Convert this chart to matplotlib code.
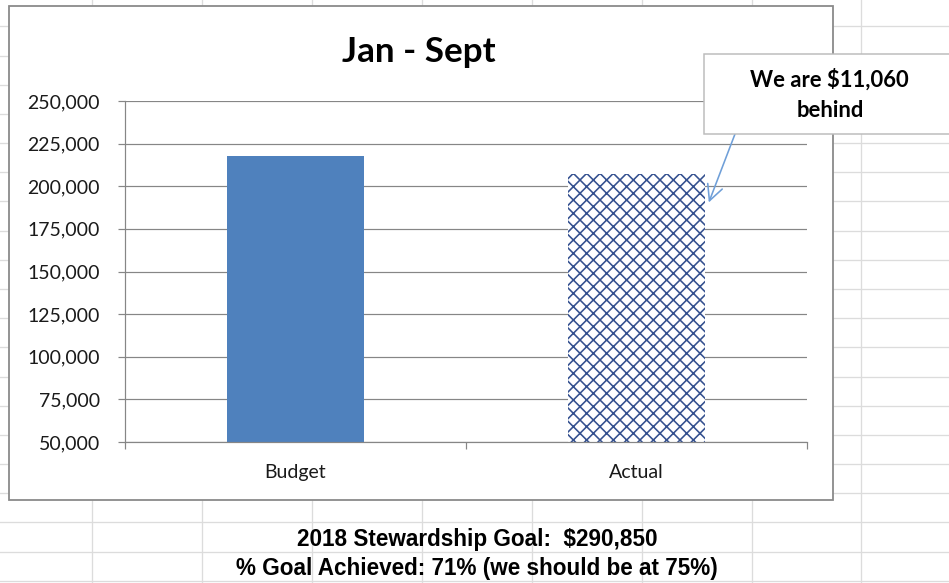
import matplotlib
matplotlib.use('Agg')
import matplotlib.pyplot as plt
from matplotlib.patches import Rectangle
from matplotlib.lines import Line2D
from matplotlib.ticker import FuncFormatter

# ---- data ----
categories = ['Budget', 'Actual']
values = [218000, 206940]
y_ticks = [50000, 75000, 100000, 125000, 150000, 175000, 200000, 225000, 250000]
title = 'Jan - Sept'
callout_line1 = 'We are $11,060'
callout_line2 = 'behind'
footer1 = '2018 Stewardship Goal:  $290,850'
footer2 = '% Goal Achieved: 71% (we should be at 75%)'

DPI = 80
W, H = 949, 583
fig = plt.figure(figsize=(W / DPI, H / DPI), dpi=DPI)
fig.patch.set_facecolor('white')


def fx(x):
    return x / W


def fy(y):
    return 1 - y / H


def pt(px):
    return px * 72 / DPI


plt.rcParams['hatch.linewidth'] = pt(1.6)

# spreadsheet cell grid (background)
sheet_cols = [92, 202, 312, 422, 532, 642, 752, 861]
for x in sheet_cols:
    fig.add_artist(Line2D([fx(x), fx(x)], [0, 1], color='#dcdcdc', lw=pt(1.3), zorder=1))
for k in range(20):
    y = 26.4 + 29.18 * k
    fig.add_artist(Line2D([0, 1], [fy(y), fy(y)], color='#dcdcdc', lw=pt(1.3), zorder=1))

# chart area
fig.add_artist(Rectangle((fx(9), fy(500)), fx(833) - fx(9), fy(6) - fy(500),
                         facecolor='white', edgecolor='#8a8a8a', lw=pt(1.8), zorder=2))

# plot area
ax = fig.add_axes([fx(125), fy(442), fx(807) - fx(125), fy(101) - fy(442)])
ax.set_zorder(3)
ax.patch.set_visible(False)

ax.bar(0, values[0], width=0.4, color='#4f81bd', lw=0, zorder=2)
ax.bar(1, values[1], width=0.4, facecolor='white', edgecolor='#34508f', hatch='xx', lw=0, zorder=2)

ax.set_xlim(-0.5, 1.5)
ax.set_ylim(y_ticks[0], y_ticks[-1])
ax.set_yticks(y_ticks)
ax.yaxis.set_major_formatter(FuncFormatter(lambda v, p: f'{int(v):,}'))
ax.set_xticks([0, 1])
ax.set_xticklabels(categories)
ax.set_xticks([-0.5, 0.5, 1.5], minor=True)

axis_gray = '#868686'
ax.grid(axis='y', color=axis_gray, lw=pt(1.2))
ax.set_axisbelow(True)
for s in ['top', 'right']:
    ax.spines[s].set_visible(False)
for s in ['left', 'bottom']:
    ax.spines[s].set_color(axis_gray)
    ax.spines[s].set_linewidth(pt(1.2))

ax.tick_params(axis='y', length=pt(7), width=pt(1.2), color=axis_gray, pad=pt(18),
               labelcolor='#1a1a1a', labelsize=pt(19.5))
ax.tick_params(axis='x', which='major', length=0, pad=pt(22), labelcolor='#1a1a1a', labelsize=pt(19.5))
ax.tick_params(axis='x', which='minor', length=pt(7), width=pt(1.2), color=axis_gray)
for lab in ax.get_yticklabels() + ax.get_xticklabels():
    lab.set_family('Lato')

# title
fig.text(fx(419), fy(62), title, ha='center', va='baseline', family='Lato',
         weight='bold', size=pt(35), color='black', zorder=6)

# callout arrow
ax.annotate('', xy=(1.212, 190500), xycoords='data',
            xytext=(fx(735), fy(134)), textcoords='figure fraction',
            arrowprops=dict(arrowstyle='->,head_length=0.7,head_width=0.35',
                            color='#6f9fd8', lw=pt(1.6), shrinkA=0, shrinkB=0,
                            mutation_scale=20),
            annotation_clip=False)

# callout box
fig.add_artist(Rectangle((fx(704), fy(134)), fx(954) - fx(704), fy(54) - fy(134),
                         facecolor='white', edgecolor='#bcbcbc', lw=pt(1.5), zorder=5))
fig.text(fx(829), fy(87), callout_line1, ha='center', va='baseline', family='Lato',
         weight='bold', size=pt(22), color='black', zorder=6)
fig.text(fx(830), fy(117), callout_line2, ha='center', va='baseline', family='Lato',
         weight='bold', size=pt(22), color='black', zorder=6)

# footer text in sheet cells
fig.text(fx(477), fy(546), footer1, ha='center', va='baseline', family='Liberation Sans',
         weight='bold', size=pt(22.5), color='black', zorder=6)
fig.text(fx(477), fy(575), footer2, ha='center', va='baseline', family='Liberation Sans',
         weight='bold', size=pt(22.5), color='black', zorder=6)

fig.savefig('out.png', dpi=DPI)
